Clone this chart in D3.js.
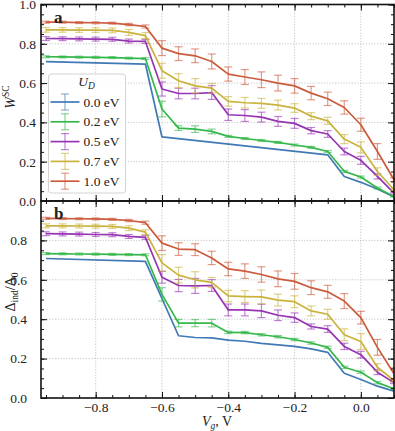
<!DOCTYPE html>
<html>
<head>
<meta charset="utf-8">
<script src="https://cdn.jsdelivr.net/npm/d3@7"></script>
<style>
  body { margin: 0; background: #fff; }
  svg text { font-family: "Liberation Serif", "DejaVu Serif", serif; fill: #222; }
</style>
</head>
<body>
<svg id="chart" width="395" height="431"></svg>
<script>
// gate voltages shared by the series with error bars
const vg = [-0.95, -0.9, -0.85, -0.8, -0.75, -0.7, -0.65, -0.6, -0.55, -0.5, -0.45,
            -0.4, -0.35, -0.3, -0.25, -0.2, -0.15, -0.1, -0.05, 0.0, 0.05, 0.1];

const seriesLabels = ["0.0 eV", "0.2 eV", "0.5 eV", "0.7 eV", "1.0 eV"];
const seriesColors = ["#4079b5", "#35b84b", "#9634b3", "#c9b33c", "#cc5a3c"];

// panel a : W^SC
const aBlueX = [-0.95, -0.65, -0.6, -0.1, -0.05, 0.0, 0.05, 0.1];
const aBlue  = [0.709, 0.697, 0.326, 0.235, 0.125, 0.095, 0.061, 0.02];
const aGreen = [0.734, 0.733, 0.732, 0.731, 0.73, 0.727, 0.725, 0.468, 0.371, 0.366, 0.354, 0.329, 0.318, 0.308, 0.298, 0.285, 0.273, 0.252, 0.151, 0.122, 0.066, 0.023];
const aGreenErr = [0.005, 0.005, 0.005, 0.005, 0.005, 0.005, 0.005, 0.04, 0.012, 0.017, 0.012, 0.005, 0.005, 0.005, 0.005, 0.005, 0.005, 0.005, 0.005, 0.005, 0.005, 0.003];
const aPurple = [0.827, 0.826, 0.825, 0.824, 0.823, 0.814, 0.812, 0.57, 0.547, 0.547, 0.552, 0.439, 0.435, 0.427, 0.405, 0.395, 0.358, 0.341, 0.252, 0.207, 0.125, 0.04];
const aPurpleErr = [0.01, 0.01, 0.01, 0.01, 0.01, 0.01, 0.01, 0.036, 0.027, 0.027, 0.035, 0.029, 0.03, 0.025, 0.025, 0.025, 0.016, 0.017, 0.017, 0.02, 0.013, 0.005];
const aGold = [0.871, 0.871, 0.87, 0.87, 0.868, 0.858, 0.842, 0.663, 0.612, 0.586, 0.574, 0.507, 0.5, 0.497, 0.488, 0.473, 0.432, 0.408, 0.315, 0.273, 0.15, 0.057];
const aGoldErr = [0.012, 0.012, 0.012, 0.012, 0.012, 0.015, 0.015, 0.038, 0.036, 0.037, 0.024, 0.024, 0.027, 0.025, 0.025, 0.022, 0.018, 0.018, 0.023, 0.028, 0.019, 0.005];
const aRed = [0.91, 0.91, 0.908, 0.907, 0.905, 0.898, 0.888, 0.778, 0.75, 0.739, 0.71, 0.646, 0.631, 0.617, 0.6, 0.586, 0.549, 0.52, 0.476, 0.388, 0.252, 0.108];
const aRedErr = [0.005, 0.005, 0.005, 0.005, 0.005, 0.006, 0.008, 0.038, 0.035, 0.035, 0.038, 0.036, 0.038, 0.04, 0.04, 0.037, 0.034, 0.034, 0.034, 0.033, 0.04, 0.01];

// panel b : Delta_ind / Delta_0
const bBlueX = [-0.95, -0.65, -0.55, -0.5, -0.45, -0.4, -0.35, -0.3, -0.25, -0.2, -0.15, -0.1, -0.05, 0.0, 0.05, 0.1];
const bBlue  = [0.708, 0.694, 0.316, 0.307, 0.305, 0.294, 0.288, 0.277, 0.27, 0.262, 0.249, 0.232, 0.126, 0.094, 0.06, 0.035];
const bGreen = [0.733, 0.732, 0.731, 0.73, 0.729, 0.728, 0.727, 0.526, 0.38, 0.38, 0.38, 0.333, 0.332, 0.321, 0.311, 0.297, 0.279, 0.257, 0.156, 0.131, 0.078, 0.047];
const bGreenErr = [0.005, 0.005, 0.005, 0.005, 0.005, 0.005, 0.005, 0.034, 0.019, 0.018, 0.019, 0.006, 0.006, 0.006, 0.006, 0.006, 0.006, 0.006, 0.006, 0.006, 0.006, 0.004];
const bPurple = [0.834, 0.833, 0.832, 0.83, 0.829, 0.82, 0.815, 0.613, 0.571, 0.569, 0.571, 0.447, 0.447, 0.442, 0.42, 0.408, 0.363, 0.35, 0.262, 0.22, 0.131, 0.078];
const bPurpleErr = [0.01, 0.01, 0.01, 0.01, 0.01, 0.01, 0.01, 0.03, 0.031, 0.038, 0.03, 0.03, 0.03, 0.034, 0.027, 0.024, 0.013, 0.017, 0.016, 0.017, 0.012, 0.005];
const bGold = [0.874, 0.874, 0.873, 0.872, 0.871, 0.862, 0.842, 0.686, 0.624, 0.6, 0.587, 0.518, 0.515, 0.513, 0.497, 0.489, 0.442, 0.425, 0.321, 0.287, 0.156, 0.089];
const bGoldErr = [0.01, 0.01, 0.01, 0.01, 0.01, 0.012, 0.012, 0.042, 0.04, 0.041, 0.025, 0.029, 0.03, 0.035, 0.03, 0.03, 0.025, 0.025, 0.03, 0.04, 0.018, 0.008];
const bRed = [0.912, 0.911, 0.91, 0.909, 0.907, 0.901, 0.89, 0.786, 0.756, 0.753, 0.711, 0.655, 0.644, 0.627, 0.605, 0.592, 0.56, 0.539, 0.492, 0.408, 0.257, 0.123];
const bRedErr = [0.005, 0.005, 0.005, 0.005, 0.005, 0.006, 0.008, 0.037, 0.032, 0.03, 0.034, 0.034, 0.037, 0.039, 0.04, 0.04, 0.035, 0.033, 0.038, 0.032, 0.04, 0.03];

const xMajor = [-0.8, -0.6, -0.4, -0.2, 0.0];
const yMajor = [0.0, 0.2, 0.4, 0.6, 0.8, 1.0];

const svg = d3.select("#chart");
const left = 41, right = 394;
const panels = [
    { top: 4.5, bottom: 201, label: "a", showX: false, showTop1: true, pad: 5,
      series: [
        { x: aBlueX, y: aBlue, err: null },
        { x: vg, y: aGreen, err: aGreenErr },
        { x: vg, y: aPurple, err: aPurpleErr },
        { x: vg, y: aGold, err: aGoldErr },
        { x: vg, y: aRed, err: aRedErr }
      ] },
    { top: 201, bottom: 398, label: "b", showX: true, showTop1: false, pad: 14,
      series: [
        { x: bBlueX, y: bBlue, err: null },
        { x: vg, y: bGreen, err: bGreenErr },
        { x: vg, y: bPurple, err: bPurpleErr },
        { x: vg, y: bGold, err: bGoldErr },
        { x: vg, y: bRed, err: bRedErr }
      ] }
];

const x = d3.scaleLinear().domain([-0.965, 0.1]).range([left, right]);
const xMinor = d3.range(-0.95, 0.1001, 0.05).map(v => +v.toFixed(2));
const yMinor = d3.range(0, 1.0001, 0.05).map(v => +v.toFixed(2));
const fmt = d => d3.format(".1f")(d).replace("-", "\u2212");

function drawPanel(p) {
    const y = d3.scaleLinear().domain([0, 1]).range([p.bottom, p.top]);
    const g = svg.append("g");

    // dotted grid
    g.append("g").selectAll("line").data(xMajor).enter().append("line")
        .attr("x1", d => x(d)).attr("x2", d => x(d))
        .attr("y1", p.top).attr("y2", p.bottom)
        .attr("stroke", "#b8b8b8").attr("stroke-width", 0.8).attr("stroke-dasharray", "1.2,1.6");
    g.append("g").selectAll("line").data([0.2, 0.4, 0.6, 0.8]).enter().append("line")
        .attr("x1", left).attr("x2", right)
        .attr("y1", d => y(d)).attr("y2", d => y(d))
        .attr("stroke", "#b8b8b8").attr("stroke-width", 0.8).attr("stroke-dasharray", "1.2,1.6");

    // data
    const line = d3.line().x(d => x(d[0])).y(d => y(d[1]));
    p.series.forEach((s, i) => {
        const pts = s.x.map((v, k) => [v, s.y[k], s.err ? s.err[k] : 0]);
        const col = seriesColors[i];
        if (s.err) {
            const eb = g.append("g").attr("stroke", col).attr("stroke-opacity", 0.6).attr("stroke-width", 1.2);
            eb.selectAll(".v").data(pts).enter().append("line")
                .attr("x1", d => x(d[0])).attr("x2", d => x(d[0]))
                .attr("y1", d => y(d[1] - d[2])).attr("y2", d => y(d[1] + d[2]));
            [-1, 1].forEach(sg => {
                eb.selectAll(".c" + sg).data(pts).enter().append("line")
                    .attr("x1", d => x(d[0]) - 4).attr("x2", d => x(d[0]) + 4)
                    .attr("y1", d => y(d[1] + sg * d[2])).attr("y2", d => y(d[1] + sg * d[2]));
            });
        }
        g.append("path").datum(pts).attr("d", line)
            .attr("fill", "none").attr("stroke", col).attr("stroke-width", 1.7)
            .attr("stroke-linejoin", "round");
    });

    // inward ticks on all four sides
    const h = p.bottom - p.top, w = right - left;
    const ticks = (axis, tr) => g.append("g").attr("transform", tr).call(axis)
        .call(a => a.select(".domain").remove())
        .call(a => a.selectAll("line").attr("stroke", "#111").attr("stroke-width", 1));
    ticks(d3.axisBottom(x).tickValues(xMinor).tickSize(-3).tickFormat(""), `translate(0,${p.bottom})`);
    ticks(d3.axisTop(x).tickValues(xMinor).tickSize(-3).tickFormat(""), `translate(0,${p.top})`);
    ticks(d3.axisLeft(y).tickValues(yMinor).tickSize(-3).tickFormat(""), `translate(${left},0)`);
    ticks(d3.axisRight(y).tickValues(yMinor).tickSize(-3).tickFormat(""), `translate(${right},0)`);
    ticks(d3.axisBottom(x).tickValues(xMajor).tickSize(-6).tickPadding(4)
        .tickFormat(p.showX ? fmt : ""), `translate(0,${p.bottom})`);
    ticks(d3.axisTop(x).tickValues(xMajor).tickSize(-6).tickFormat(""), `translate(0,${p.top})`);
    ticks(d3.axisLeft(y).tickValues(p.showTop1 ? yMajor : yMajor.slice(0, 5))
        .tickSize(-6).tickPadding(p.pad).tickFormat(fmt), `translate(${left},0)`);
    ticks(d3.axisRight(y).tickValues(yMajor).tickSize(-6).tickFormat(""), `translate(${right},0)`);
    svg.selectAll(".tick text").attr("font-size", 13.5)
        .attr("font-family", "Liberation Serif, DejaVu Serif, serif").attr("fill", "#222");

    g.append("rect").attr("x", left).attr("y", p.top).attr("width", w).attr("height", h)
        .attr("fill", "none").attr("stroke", "#111").attr("stroke-width", 1.6);

    g.append("text").attr("x", 54).attr("y", p.top + 18)
        .attr("font-size", 17).attr("font-weight", "bold").text(p.label);
}

panels.forEach(drawPanel);

// legend in panel a
const lg = svg.append("g").attr("transform", "translate(48.5,74)");
lg.append("rect").attr("width", 77).attr("height", 119).attr("rx", 3)
    .attr("fill", "#fff").attr("fill-opacity", 0.85).attr("stroke", "#d4d4d4").attr("stroke-width", 1);
lg.append("text").attr("x", 38).attr("y", 12).attr("text-anchor", "middle")
    .attr("font-size", 13.5).attr("font-style", "italic")
    .call(t => { t.append("tspan").text("U"); t.append("tspan").attr("font-size", 9.5).attr("dy", 3).text("D"); });
seriesLabels.forEach((lab, i) => {
    const yy = 28 + i * 19.8;
    const e = lg.append("g").attr("transform", `translate(0,${yy})`);
    e.append("line").attr("x1", 2).attr("x2", 31).attr("y1", 0).attr("y2", 0)
        .attr("stroke", seriesColors[i]).attr("stroke-width", 1.7);
    e.append("line").attr("x1", 16.5).attr("x2", 16.5).attr("y1", -8).attr("y2", 8)
        .attr("stroke", seriesColors[i]).attr("stroke-opacity", 0.6).attr("stroke-width", 1.2);
    [-8, 8].forEach(dy => e.append("line").attr("x1", 12.5).attr("x2", 20.5).attr("y1", dy).attr("y2", dy)
        .attr("stroke", seriesColors[i]).attr("stroke-opacity", 0.6).attr("stroke-width", 1.2));
    e.append("text").attr("x", 35).attr("y", 4.5).attr("font-size", 13.5).text(lab);
});

// axis labels
svg.append("text").attr("transform", "translate(15,97) rotate(-90)").attr("text-anchor", "middle")
    .attr("font-size", 14)
    .call(t => {
        t.append("tspan").attr("font-style", "italic").text("W");
        t.append("tspan").attr("font-size", 9.5).attr("dy", -6).text("SC");
    });
svg.append("text").attr("transform", "translate(15,292) rotate(-90)").attr("text-anchor", "middle")
    .attr("font-size", 14)
    .call(t => {
        t.append("tspan").text("\u0394");
        t.append("tspan").attr("font-size", 9.5).attr("dy", 3).text("ind");
        t.append("tspan").attr("dy", -3).text("/\u0394");
        t.append("tspan").attr("font-size", 9.5).attr("dy", 3).text("0");
    });
svg.append("text").attr("x", 217).attr("y", 426).attr("text-anchor", "middle").attr("font-size", 14)
    .call(t => {
        t.append("tspan").attr("font-style", "italic").text("V");
        t.append("tspan").attr("font-size", 9.5).attr("font-style", "italic").attr("dy", 3).text("g");
        t.append("tspan").attr("dy", -3).text(", V");
    });
</script>
</body>
</html>
